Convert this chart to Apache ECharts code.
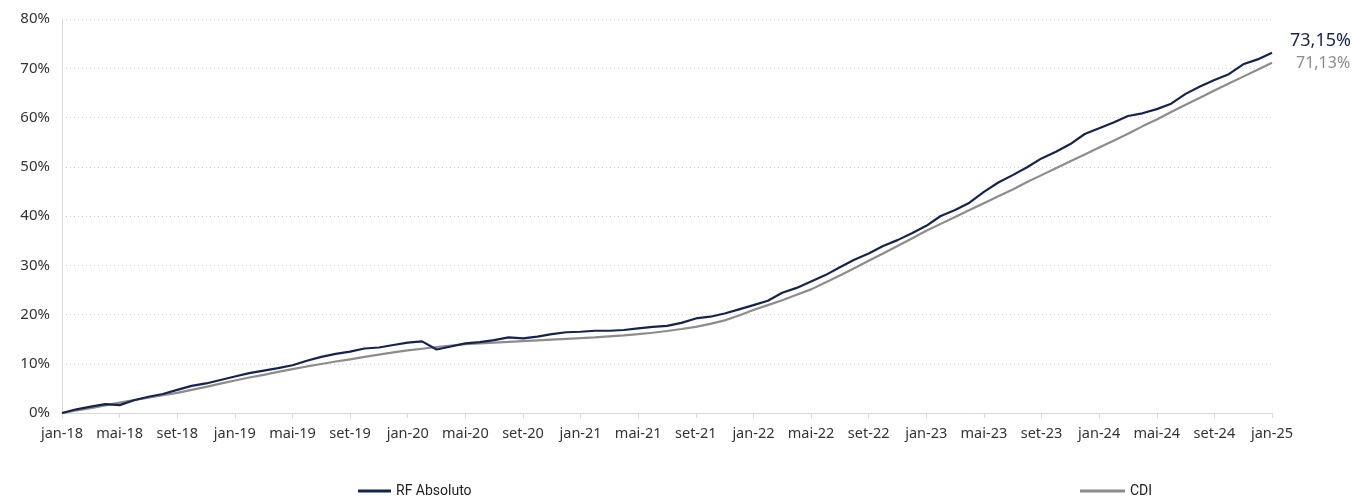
<!DOCTYPE html>
<html>
<head>
<meta charset="utf-8">
<script src="https://cdn.jsdelivr.net/npm/echarts@6/dist/echarts.min.js"></script>
<style>
html,body{margin:0;padding:0;background:#fff;}
#chart{width:1353px;height:501px;}
</style>
</head>
<body>
<div id="chart"></div>
<script>
// Month abbreviations (pt-BR) and years used for the category axis
const monthAbbr = ['jan','fev','mar','abr','mai','jun','jul','ago','set','out','nov','dez'];
const startYear = 18;
const monthCount = 85; // jan-18 .. jan-25

// Cumulative return (%) of RF Absoluto, monthly
const rfAbsoluto = [
  0, 0.75, 1.3, 1.8, 1.6, 2.6, 3.3, 3.85, 4.7, 5.5, 6.0, 6.7,
  7.4, 8.1, 8.6, 9.1, 9.7, 10.6, 11.4, 12.0, 12.45, 13.1, 13.3, 13.8,
  14.3, 14.55, 12.9, 13.5, 14.15, 14.4, 14.8, 15.35, 15.15, 15.5, 16.0, 16.4,
  16.5, 16.7, 16.7, 16.85, 17.2, 17.5, 17.7, 18.3, 19.2, 19.55, 20.2, 21.05,
  21.9, 22.8, 24.4, 25.4, 26.7, 28.0, 29.6, 31.1, 32.4, 33.9, 35.1, 36.5,
  38.0, 40.0, 41.2, 42.7, 44.9, 46.8, 48.3, 49.9, 51.7, 53.05, 54.6, 56.65,
  57.8, 59.0, 60.3, 60.85, 61.7, 62.8, 64.8, 66.3, 67.6, 68.8, 70.8, 71.8,
  73.15
];

// Cumulative CDI (%), monthly
const cdi = [
  0, 0.5, 1.0, 1.55, 2.1, 2.6, 3.1, 3.6, 4.1, 4.7, 5.3, 5.95,
  6.6, 7.2, 7.75, 8.35, 8.9, 9.45, 9.95, 10.45, 10.9, 11.4, 11.85, 12.3,
  12.7, 13.05, 13.4, 13.7, 14.0, 14.15, 14.3, 14.45, 14.6, 14.75, 14.9, 15.05,
  15.2, 15.35, 15.55, 15.75, 16.0, 16.3, 16.65, 17.05, 17.5, 18.1, 18.8, 19.8,
  20.9, 21.9, 22.9, 24.0, 25.1, 26.5, 27.9, 29.4, 30.9, 32.4, 33.9, 35.45,
  37.0, 38.4, 39.8, 41.2, 42.6, 44.0, 45.4, 46.9, 48.3, 49.7, 51.1, 52.5,
  53.9, 55.3, 56.7, 58.2, 59.6, 61.1, 62.6, 64.0, 65.5, 66.9, 68.3, 69.7,
  71.13
];

const seriesNames = ['RF Absoluto', 'CDI'];

const categories = [];
for (let i = 0; i < monthCount; i++) {
  categories.push(monthAbbr[i % 12] + '-' + (startYear + Math.floor(i / 12)));
}

const navy = '#15234f';
const gray = '#8c8c8c';
const fontFamily = '"Noto Sans", "Open Sans", sans-serif';
const pct = v => v.toFixed(2).replace('.', ',') + '%';

const chart = echarts.init(document.getElementById('chart'));
chart.setOption({
  animation: false,
  backgroundColor: '#fff',
  grid: { left: 62, right: 81, top: 19, bottom: 88, containLabel: false },
  xAxis: {
    type: 'category',
    data: categories,
    boundaryGap: false,
    axisLine: { show: true, lineStyle: { color: '#d9d9d9', width: 1 } },
    axisTick: { show: true, interval: 3, length: 5, lineStyle: { color: '#d9d9d9' } },
    axisLabel: { interval: 3, margin: 13, color: '#333', fontSize: 14.5, fontFamily: fontFamily },
    splitLine: { show: false }
  },
  yAxis: {
    type: 'value',
    min: 0, max: 80, interval: 10,
    axisLine: { show: true, lineStyle: { color: '#d9d9d9', width: 1 } },
    axisTick: { show: false },
    axisLabel: { formatter: '{value}%', color: '#333', fontSize: 15, fontFamily: fontFamily, margin: 12 },
    splitLine: { show: true, lineStyle: { color: '#cfcfcf', type: [1, 3], width: 1 } }
  },
  legend: [
    {
      data: [seriesNames[0]],
      left: 353, bottom: -2,
      icon: 'rect', itemWidth: 33, itemHeight: 3, itemGap: 5,
      textStyle: { color: '#222', fontSize: 14, fontFamily: 'Roboto, sans-serif' }
    },
    {
      data: [seriesNames[1]],
      left: 1075, bottom: -2,
      icon: 'rect', itemWidth: 45, itemHeight: 3, itemGap: 5,
      textStyle: { color: '#222', fontSize: 14, fontFamily: 'Roboto, sans-serif' }
    }
  ],
  series: [
    {
      name: seriesNames[1],
      type: 'line',
      data: cdi,
      showSymbol: false,
      symbol: 'none',
      lineStyle: { color: gray, width: 2.2 },
      itemStyle: { color: gray },
      endLabel: {
        show: true,
        formatter: p => pct(p.value),
        color: gray, fontSize: 16, fontFamily: fontFamily,
        offset: [16, 1]
      },
      z: 2
    },
    {
      name: seriesNames[0],
      type: 'line',
      data: rfAbsoluto,
      showSymbol: false,
      symbol: 'none',
      lineStyle: { color: navy, width: 2.2 },
      itemStyle: { color: navy },
      endLabel: {
        show: true,
        formatter: p => pct(p.value),
        color: navy, fontSize: 18, fontFamily: fontFamily,
        offset: [10, -12]
      },
      z: 3
    }
  ]
});
</script>
</body>
</html>
